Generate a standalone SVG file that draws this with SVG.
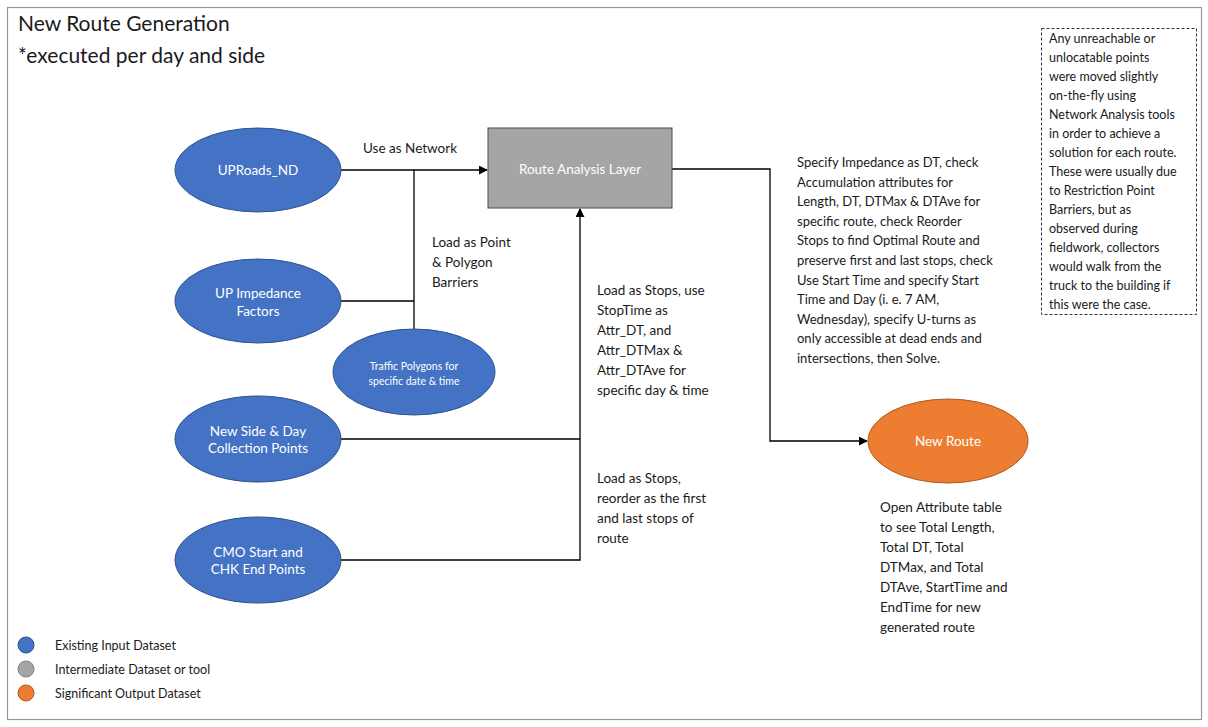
<svg xmlns="http://www.w3.org/2000/svg" width="1208" height="727" viewBox="0 0 1208 727">
<style>
.t{font-family:Lato,"Liberation Sans",sans-serif;fill:#1a1a1a}
.w{font-family:Lato,"Liberation Sans",sans-serif;fill:#ffffff}
.blue{fill:#4472c4;stroke:#2f528f;stroke-width:1}
.ln{fill:none;stroke:#000;stroke-width:1.3}
</style>
<defs>
<marker id="ah" viewBox="0 0 10 10" refX="9" refY="5" markerWidth="9" markerHeight="9" markerUnits="userSpaceOnUse" orient="auto">
<path d="M0,0 L10,5 L0,10 Z" fill="#000"/>
</marker>
</defs>
<rect x="0" y="0" width="1208" height="727" fill="#fff"/>
<rect x="7.5" y="7.5" width="1194" height="712" fill="none" stroke="#999" stroke-width="1.2"/>
<text class="t" x="18" y="31" font-size="21">New Route Generation</text>
<text class="t" x="18" y="63" font-size="21">*executed per day and side</text>

<g id="connectors">
<path class="ln" d="M341,170 H487" marker-end="url(#ah)"/>
<path class="ln" d="M414,170 V329"/>
<path class="ln" d="M341,301 H414"/>
<path class="ln" d="M340,439 H580"/>
<path class="ln" d="M340,560 H580 V209" marker-end="url(#ah)"/>
<path class="ln" d="M672,169 H770 V441 H867" marker-end="url(#ah)"/>
</g>

<g id="n-uproads"><ellipse class="blue" cx="258" cy="170" rx="83" ry="42"/><text class="w" x="258" y="175" font-size="13.5" text-anchor="middle">UPRoads_ND</text></g>
<g id="n-impedance"><ellipse class="blue" cx="258" cy="301" rx="83" ry="42"/><text class="w" x="258" y="298" font-size="13.5" text-anchor="middle">UP Impedance</text><text class="w" x="258" y="316" font-size="13.5" text-anchor="middle">Factors</text></g>
<g id="n-traffic"><ellipse class="blue" cx="414" cy="372" rx="81" ry="43"/><text class="w" x="414" y="370" font-size="10.5" text-anchor="middle">Traffic Polygons for</text><text class="w" x="414" y="385" font-size="10.5" text-anchor="middle">specific date &amp; time</text></g>
<g id="n-newside"><ellipse class="blue" cx="258" cy="439" rx="83" ry="43"/><text class="w" x="258" y="436" font-size="13.5" text-anchor="middle">New Side &amp; Day</text><text class="w" x="258" y="453" font-size="13.5" text-anchor="middle">Collection Points</text></g>
<g id="n-cmo"><ellipse class="blue" cx="258" cy="560" rx="83" ry="43"/><text class="w" x="258" y="557" font-size="13.5" text-anchor="middle">CMO Start and</text><text class="w" x="258" y="574" font-size="13.5" text-anchor="middle">CHK End Points</text></g>
<g id="n-ral"><rect x="488" y="128" width="184" height="80" fill="#a5a5a5" stroke="#4d4d4d" stroke-width="1"/><text class="w" x="580" y="174" font-size="13.5" text-anchor="middle">Route Analysis Layer</text></g>
<g id="n-newroute"><ellipse cx="948" cy="441" rx="80" ry="42" fill="#ed7d31" stroke="#ae5a21" stroke-width="1"/><text class="w" x="948" y="446" font-size="13.5" text-anchor="middle">New Route</text></g>

<g id="labels" font-size="13.5">
<text class="t" x="363" y="153">Use as Network</text>
<text class="t" x="432" y="247">Load as Point</text>
<text class="t" x="432" y="267">&amp; Polygon</text>
<text class="t" x="432" y="287">Barriers</text>
<text class="t" x="597" y="295">Load as Stops, use</text>
<text class="t" x="597" y="315">StopTime as</text>
<text class="t" x="597" y="335">Attr_DT, and</text>
<text class="t" x="597" y="355">Attr_DTMax &amp;</text>
<text class="t" x="597" y="375">Attr_DTAve for</text>
<text class="t" x="597" y="395">specific day &amp; time</text>
<text class="t" x="597" y="483">Load as Stops,</text>
<text class="t" x="597" y="503">reorder  as the first</text>
<text class="t" x="597" y="523">and last stops of</text>
<text class="t" x="597" y="543">route</text>
</g>
<g id="spec" font-size="13">
<text class="t" x="797" y="167">Specify Impedance as DT, check</text>
<text class="t" x="797" y="187">Accumulation attributes for</text>
<text class="t" x="797" y="206">Length, DT, DTMax &amp; DTAve for</text>
<text class="t" x="797" y="226">specific route, check Reorder</text>
<text class="t" x="797" y="245">Stops to find Optimal Route and</text>
<text class="t" x="797" y="265">preserve first and last stops, check</text>
<text class="t" x="797" y="285">Use Start Time and specify Start</text>
<text class="t" x="797" y="304">Time and Day (i. e. 7 AM,</text>
<text class="t" x="797" y="324">Wednesday), specify  U-turns as</text>
<text class="t" x="797" y="343">only accessible at dead ends and</text>
<text class="t" x="797" y="363">intersections, then Solve.</text>
</g>
<g id="note">
<rect x="1041.5" y="28.5" width="155" height="286" fill="none" stroke="#333" stroke-width="1" stroke-dasharray="3,2"/>
<g font-size="12.5">
<text class="t" x="1049" y="43">Any unreachable or</text>
<text class="t" x="1049" y="62">unlocatable points</text>
<text class="t" x="1049" y="81">were moved slightly</text>
<text class="t" x="1049" y="100">on-the-fly using</text>
<text class="t" x="1049" y="119">Network Analysis tools</text>
<text class="t" x="1049" y="138">in order to achieve a</text>
<text class="t" x="1049" y="157">solution for each route.</text>
<text class="t" x="1049" y="176">These were usually due</text>
<text class="t" x="1049" y="195">to Restriction Point</text>
<text class="t" x="1049" y="214">Barriers, but as</text>
<text class="t" x="1049" y="233">observed during</text>
<text class="t" x="1049" y="252">fieldwork, collectors</text>
<text class="t" x="1049" y="271">would walk from the</text>
<text class="t" x="1049" y="290">truck to the building if</text>
<text class="t" x="1049" y="309">this were the case.</text>
</g>
</g>
<g id="output-note" font-size="13.5">
<text class="t" x="880" y="512">Open Attribute table</text>
<text class="t" x="880" y="532">to see Total Length,</text>
<text class="t" x="880" y="552">Total DT, Total</text>
<text class="t" x="880" y="572">DTMax, and Total</text>
<text class="t" x="880" y="592">DTAve, StartTime and</text>
<text class="t" x="880" y="612">EndTime for new</text>
<text class="t" x="880" y="632">generated route</text>
</g>
<g id="legend" font-size="12.5">
<circle cx="26" cy="645" r="8" fill="#4472c4" stroke="#2f528f"/>
<circle cx="26" cy="669" r="8" fill="#a5a5a5" stroke="#7f7f7f"/>
<circle cx="26" cy="693" r="8" fill="#ed7d31" stroke="#ae5a21"/>
<text class="t" x="55" y="650">Existing  Input Dataset</text>
<text class="t" x="55" y="674">Intermediate Dataset or tool</text>
<text class="t" x="55" y="698">Significant Output Dataset</text>
</g>
</svg>
